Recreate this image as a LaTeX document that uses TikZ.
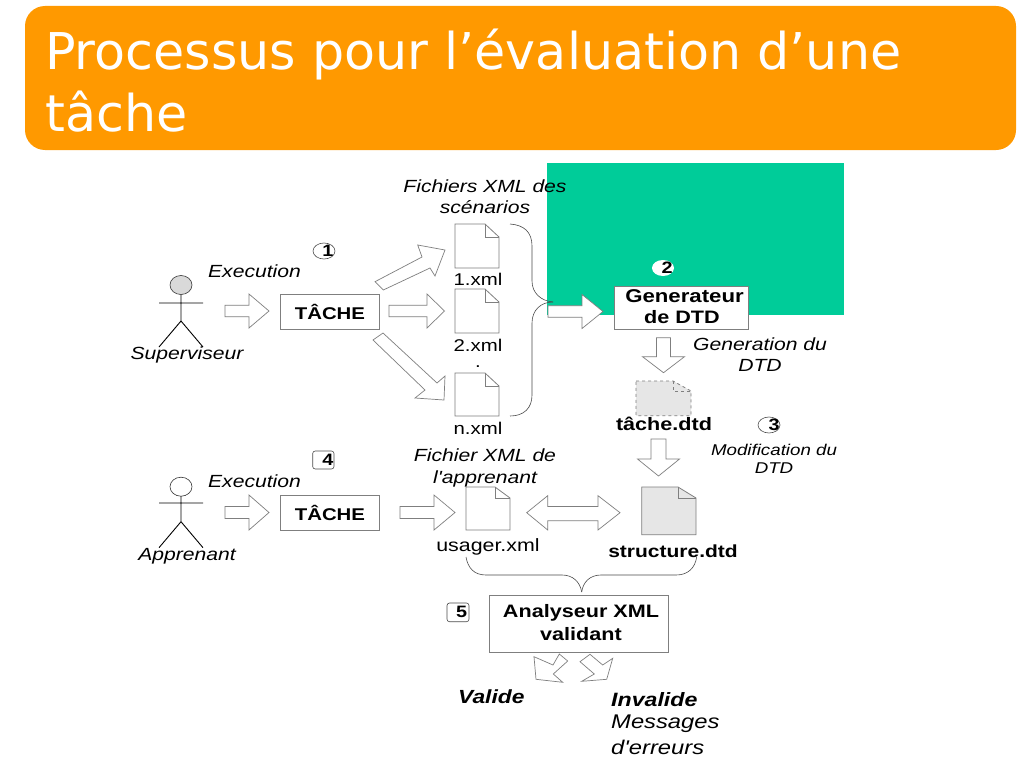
\documentclass[tikz,border=0pt]{standalone}
\usepackage{fontspec}
\setmainfont{Liberation Sans}
\newfontfamily\titlefont{DejaVu Sans}
\newfontfamily\wide[FakeStretch=1.2]{Liberation Sans}
\definecolor{banner}{HTML}{FF9900}
\definecolor{teal}{HTML}{00CC99}
\definecolor{docgray}{HTML}{E6E6E6}
\definecolor{edge}{HTML}{7F7F7F}
\newcommand{\fsz}[1]{\fontsize{#1}{#1}\selectfont}
\tikzset{
  titletext/.style={anchor=base west,inner sep=0,text=white,font=\titlefont\fsz{50.7}},
  blockarrow/.style={draw=edge,fill=white,line width=0.7pt,line join=miter},
  boxnode/.style={draw=edge,fill=white,line width=0.9pt,inner sep=0,anchor=north west},
  doc/.style={draw=edge,fill=white,line width=0.8pt,line join=miter},
  gdoc/.style={doc,fill=docgray},
  fold/.style={draw=edge,line width=0.8pt},
  brace/.style={draw=black!70,line width=0.6pt},
  actor/.style={draw=black,line width=0.9pt},
  lab/.style={inner sep=0,align=center,font=\wide\fsz{17.6}\itshape},
  small/.style={lab,font=\wide\fsz{15.6}\itshape},
  plain/.style={inner sep=0,font=\wide\fsz{17}},
  strong/.style={inner sep=0,align=center,font=\wide\fsz{18}\bfseries},
  num/.style={inner sep=0,font=\wide\fsz{16.5}\bfseries},
  marker/.style={draw=black!70,line width=0.6pt,fill=white},
}
\newcommand{\docshape}[7]{% style,x1,y1,x2,y2,foldw,foldh
  \draw[#1] (#2,#3) -- (#4-#6,#3) -- (#4,#3+#7) -- (#4,#5) -- (#2,#5) -- cycle;
  \draw[fold,#1,fill=none] (#4-#6,#3) -- (#4-#6,#3+#7) -- (#4,#3+#7);
}
\newcommand{\hsarrow}[6]{% x1,x2,xhead,yc,shaft half,head half
  \draw[blockarrow] (#1,#4-#5) -- (#3,#4-#5) -- (#3,#4-#6) -- (#2,#4) -- (#3,#4+#6) -- (#3,#4+#5) -- (#1,#4+#5) -- cycle;
}
\newcommand{\dnarrow}[6]{% y1,y2,yhead,xc,shaft half,head half
  \draw[blockarrow] (#4-#5,#1) -- (#4-#5,#3) -- (#4-#6,#3) -- (#4,#2) -- (#4+#6,#3) -- (#4+#5,#3) -- (#4+#5,#1) -- cycle;
}
\begin{document}
\begin{tikzpicture}[x=1pt,y=-1pt]
\useasboundingbox (0,0) rectangle (1024,768);
\fill[white] (0,0) rectangle (1024,768);
% banner
\fill[banner,rounded corners=20pt] (25,6) rectangle (1016,150);
\node[titletext] (title1) at (45,69.5) {Processus pour l’évaluation d’une};
\node[titletext] (title2) at (45,131) {tâche};
% green block
\fill[teal] (547,163) rectangle (844,315);
% top labels
\node[lab] (fichiers) at (485,197) {Fichiers XML des\\[3pt]scénarios};
\node[lab] (exec1) at (254.5,271.5) {Execution};
% actor 1
\draw[actor,fill=black!15,draw=black!80,line width=0.6pt] (181,285) ellipse (11 and 9.5);
\draw[actor] (181,295) -- (181,321) (159,303) -- (203,303) (159,347) -- (181,321) -- (203,347);
\node[lab] (superviseur) at (187,354.5) {Superviseur};
% marker 1
\draw[marker] (324,251) ellipse (11 and 8);
\node[num] (n1) at (328,251) {1};
% arrows from actor 1
\hsarrow{225}{269}{249}{311}{5.7}{17}
\node[boxnode,minimum width=99pt,minimum height=35pt,font=\wide\fsz{17}\bfseries] (tache1) at (280,294) {TÂCHE};
\hsarrow{389}{444.5}{427}{311}{5.7}{17}
\draw[blockarrow] (375,281.7) -- (422,257) -- (417.7,245) -- (445,250) -- (435,276) -- (430,268) -- (383.3,290) -- cycle;
\draw[blockarrow] (373,340) -- (383,333) -- (437,383) -- (445,376) -- (444,400) -- (415,398) -- (425,390) -- cycle;
% xml docs
\docshape{doc}{455}{224}{499}{268}{14}{13}
\docshape{doc}{455}{289}{499}{333}{14}{13}
\docshape{doc}{455}{373}{499}{416}{14}{13}
\node[plain] (x1) at (478,279.5) {1.xml};
\node[plain] (x2) at (478,345) {2.xml};
\node[plain] (dot) at (478,367) {.};
\node[plain] (xn) at (478,428.5) {n.xml};
% scenario brace
\draw[brace] (510,224) .. controls (524,225) and (532,232) .. (532,246) -- (532,281) .. controls (532,293) and (541,301) .. (553,302);
\draw[brace] (553,302) .. controls (541,302) and (532,310) .. (532,323) -- (532,395) .. controls (532,408) and (524,416) .. (510,416);
% generator
\hsarrow{548}{603}{582}{311.5}{5.8}{17}
\node[boxnode,minimum width=133.5pt,minimum height=43.5pt] (gen) at (614.3,285.7) {};
\node[strong,font=\wide\fsz{18.5}\bfseries] (gen1) at (684.5,296.5) {Generateur};
\node[strong] (gen2) at (682,317) {de DTD};
\fill[white] (663,268) ellipse (11 and 8);
\node[num] (n2) at (667,268) {2};
\dnarrow{337.7}{372.7}{356.7}{663.5}{7}{21}
\node[lab] (gendtd) at (760,354.5) {Generation du\\[3pt]DTD};
% tache.dtd
\docshape{gdoc,dashed}{636}{381}{691}{415.7}{18}{10}
\node[strong] (tdtd) at (664,424) {tâche.dtd};
\draw[marker] (769,425) ellipse (11 and 8);
\node[num] (n3) at (774,425) {3};
\node[small] (modif) at (774,459) {Modification du\\[2pt]DTD};
\dnarrow{439}{476}{459}{658.5}{7.5}{21}
% row 2
\node[lab] (exec2) at (254.5,481.5) {Execution};
\draw[actor,draw=black!80,line width=0.6pt] (181,486.7) ellipse (11 and 9.5);
\draw[actor] (181,496) -- (181,521.7) (159,503) -- (203,503) (159,547.7) -- (181,521.7) -- (203,547.7);
\node[lab] (apprenant) at (187,556) {Apprenant};
\draw[marker,rounded corners=2.5pt] (312.7,451) rectangle (334,469);
\node[num] (n4) at (328,460) {4};
\hsarrow{225}{269}{249}{512.5}{6}{17.5}
\node[boxnode,minimum width=99pt,minimum height=35pt,font=\wide\fsz{17}\bfseries] (tache2) at (280,495) {TÂCHE};
\hsarrow{400}{455}{434}{512.5}{6}{17.5}
\node[lab] (fichierx) at (485,468) {Fichier XML de\\[4pt]l'apprenant};
\docshape{doc}{466}{487}{510}{530}{15}{11}
\docshape{gdoc}{641.7}{487}{696}{534.7}{18}{11}
% double arrow
\draw[blockarrow] (526.7,512.7) -- (547.7,495.7) -- (547.7,506.5) -- (598,506.5) -- (598,495.7) -- (620,512.7) -- (598,530) -- (598,520.7) -- (547.7,520.7) -- (547.7,530) -- cycle;
\node[plain,font=\wide\fsz{17.8}] (usager) at (488,546.7) {usager.xml};
\node[strong,font=\wide\fsz{17.5}\bfseries] (sdtd) at (673,551.7) {structure.dtd};
% lower brace
\draw[brace] (466,557) .. controls (468,568) and (474,575) .. (486,575) -- (562,575) .. controls (573,575) and (580,582) .. (581.7,592);
\draw[brace] (581.7,592) .. controls (583,582) and (590,575) .. (601,575) -- (676,575) .. controls (688,575) and (695,568) .. (696.7,557);
% analyser
\node[boxnode,minimum width=178.7pt,minimum height=57pt] (analyseur) at (489,595.3) {};
\node[strong] (an1) at (581,613) {Analyseur XML};
\node[strong] (an2) at (581,634) {validant};
\draw[marker,rounded corners=2.5pt] (447,603) rectangle (469,621.7);
\node[num] (n5) at (461.7,612) {5};
\draw[blockarrow] (534,656.7) -- (553,665) -- (559.3,654) -- (567.7,661) -- (553.3,674) -- (562.7,682.3) -- (536,679.3) -- cycle;
\draw[blockarrow] (580,661.7) -- (590,654.3) -- (602.7,665) -- (612.7,658.3) -- (606.7,679.3) -- (581.7,681.3) -- (594.3,674) -- cycle;
\node[inner sep=0,anchor=west,font=\wide\fsz{19}\bfseries\itshape] (valide) at (458,697) {Valide};
\node[inner sep=0,anchor=west,font=\wide\fsz{19.3}\bfseries\itshape] (invalide) at (611,700) {Invalide};
\node[inner sep=0,anchor=west,font=\wide\fsz{19.8}\itshape] (messages) at (611,724) {Messages};
\node[inner sep=0,anchor=west,font=\wide\fsz{19.8}\itshape] (erreurs) at (611,747) {d'erreurs};
\end{tikzpicture}
\end{document}
